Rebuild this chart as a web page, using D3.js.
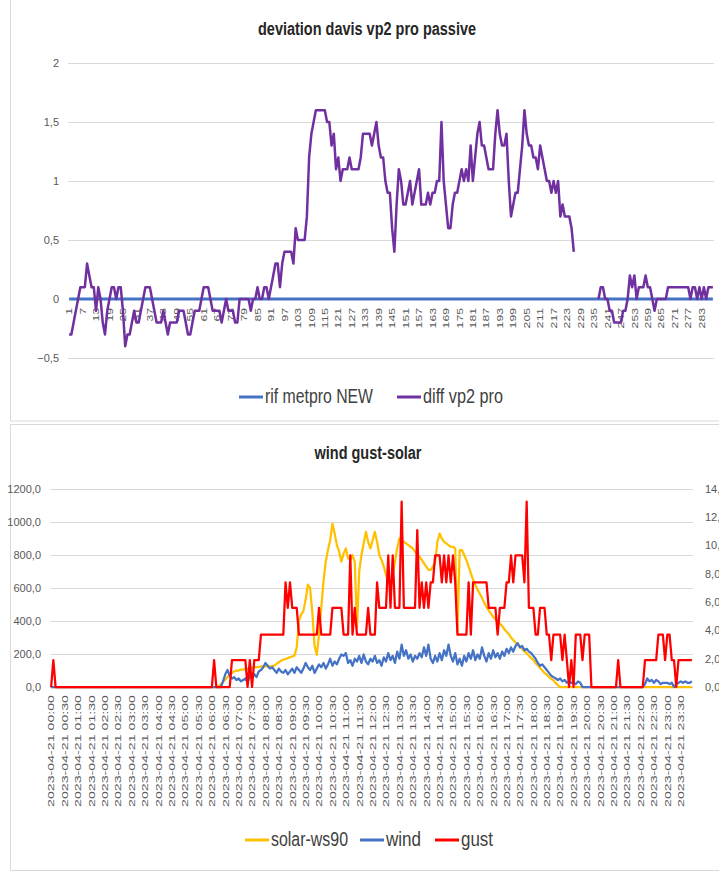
<!DOCTYPE html>
<html>
<head>
<meta charset="utf-8">
<script src="https://cdn.jsdelivr.net/npm/d3@7"></script>
<style>
  body { margin: 0; background: #fff; }
  svg { display: block; font-family: "Liberation Sans Narrow", "Liberation Sans", Arial, sans-serif; }
</style>
</head>
<body>
<svg id="chart" width="719" height="872"></svg>
<script>
// ---- chart 1: deviation davis vp2 pro passive ----
var devTicks = [1, 7, 13, 19, 25, 31, 37, 43, 49, 55, 61, 67, 73, 79, 85, 91, 97, 103, 109, 115, 121, 127, 133, 139,
    145, 151, 157, 163, 169, 175, 181, 187, 193, 199, 205, 211, 217, 223, 229, 235, 241, 247, 253, 259, 265, 271, 277, 283];
var devYTicks = [-0.5, 0, 0.5, 1, 1.5, 2];

var rifMetpro = [
    0, 0, 0, 0, 0, 0, 0, 0, 0, 0, 0, 0, 0, 0, 0, 0, 0, 0, 0, 0, 0, 0, 0, 0,
    0, 0, 0, 0, 0, 0, 0, 0, 0, 0, 0, 0, 0, 0, 0, 0, 0, 0, 0, 0, 0, 0, 0, 0,
    0, 0, 0, 0, 0, 0, 0, 0, 0, 0, 0, 0, 0, 0, 0, 0, 0, 0, 0, 0, 0, 0, 0, 0,
    0, 0, 0, 0, 0, 0, 0, 0, 0, 0, 0, 0, 0, 0, 0, 0, 0, 0, 0, 0, 0, 0, 0, 0,
    0, 0, 0, 0, 0, 0, 0, 0, 0, 0, 0, 0, 0, 0, 0, 0, 0, 0, 0, 0, 0, 0, 0, 0,
    0, 0, 0, 0, 0, 0, 0, 0, 0, 0, 0, 0, 0, 0, 0, 0, 0, 0, 0, 0, 0, 0, 0, 0,
    0, 0, 0, 0, 0, 0, 0, 0, 0, 0, 0, 0, 0, 0, 0, 0, 0, 0, 0, 0, 0, 0, 0, 0,
    0, 0, 0, 0, 0, 0, 0, 0, 0, 0, 0, 0, 0, 0, 0, 0, 0, 0, 0, 0, 0, 0, 0, 0,
    0, 0, 0, 0, 0, 0, 0, 0, 0, 0, 0, 0, 0, 0, 0, 0, 0, 0, 0, 0, 0, 0, 0, 0,
    0, 0, 0, 0, 0, 0, 0, 0, 0, 0, 0, 0, 0, 0, 0, 0, 0, 0, 0, 0, 0, 0, 0, 0,
    0, 0, 0, 0, 0, 0, 0, 0, 0, 0, 0, 0, 0, 0, 0, 0, 0, 0, 0, 0, 0, 0, 0, 0,
    0, 0, 0, 0, 0, 0, 0, 0, 0, 0, 0, 0, 0, 0, 0, 0, 0, 0, 0, 0, 0, 0, 0, 0
];

var diffVp2 = [
    -0.3, -0.3, -0.2, -0.1, 0, 0.1, 0.1, 0.1, 0.3, 0.2, 0.1, 0.1,
    -0.1, 0.1, 0, -0.2, -0.3, -0.1, 0, 0.1, 0.1, 0, 0.1, 0.1,
    -0.1, -0.4, -0.3, -0.3, -0.2, -0.1, -0.2, -0.2, -0.1, 0, 0.1, 0.1,
    0.1, 0, -0.1, -0.2, -0.2, -0.2, -0.1, -0.2, -0.3, -0.2, -0.2, -0.2,
    -0.2, -0.1, -0.1, -0.1, -0.2, -0.3, -0.3, -0.2, -0.1, -0.1, -0.1, 0,
    0.1, 0.1, 0.1, 0, -0.1, -0.1, -0.1, -0.1, -0.2, -0.1, 0, -0.1,
    -0.1, -0.1, -0.2, -0.2, 0, 0, 0, 0, 0, -0.1, 0, 0,
    0.1, 0, 0, 0.1, 0.1, 0, 0.1, 0.2, 0.3, 0.3, 0.1, 0.3,
    0.4, 0.4, 0.4, 0.4, 0.3, 0.6, 0.5, 0.5, 0.5, 0.5, 0.7, 1.2,
    1.4, 1.5, 1.6, 1.6, 1.6, 1.6, 1.6, 1.5, 1.5, 1.3, 1.4, 1.1,
    1.2, 1.0, 1.1, 1.1, 1.1, 1.2, 1.1, 1.1, 1.1, 1.1, 1.2, 1.4,
    1.4, 1.4, 1.4, 1.3, 1.4, 1.5, 1.3, 1.2, 1.2, 1.0, 0.9, 0.9,
    0.6, 0.4, 0.8, 1.1, 1.0, 0.8, 0.8, 0.9, 1.0, 0.8, 0.9, 1.0,
    1.1, 0.8, 0.8, 0.8, 0.9, 0.8, 0.9, 0.9, 1.0, 1.0, 1.5, 1.0,
    0.8, 0.6, 0.6, 0.8, 0.9, 0.9, 1.0, 1.1, 1.0, 1.1, 1.0, 1.3,
    1.0, 1.2, 1.4, 1.5, 1.3, 1.3, 1.2, 1.1, 1.1, 1.1, 1.4, 1.6,
    1.4, 1.3, 1.3, 1.4, 1.0, 0.7, 0.8, 0.9, 0.9, 1.1, 1.3, 1.6,
    1.4, 1.3, 1.3, 1.2, 1.2, 1.1, 1.3, 1.2, 1.1, 1.0, 1.0, 0.9,
    1.0, 0.9, 1.0, 0.7, 0.8, 0.7, 0.7, 0.7, 0.6, 0.4, null, null,
    null, null, null, null, null, null, null, null, 0, 0.1, 0.1, 0,
    0, -0.1, -0.1, -0.2, -0.2, -0.2, -0.2, -0.1, -0.1, 0, 0.2, 0.1,
    0.2, 0, 0.1, 0.1, 0.1, 0.2, 0.1, 0.1, 0, -0.1, 0, 0,
    0, 0, 0, 0.1, 0.1, 0.1, 0.1, 0.1, 0.1, 0.1, 0.1, 0.1,
    0.1, 0, 0.1, 0.1, 0, 0.1, 0, 0.1, 0, 0.1, 0.1, 0.1
];

// ---- chart 2: wind gust-solar ----
var timeLabels = [
    '2023-04-21 00:00', '2023-04-21 00:30', '2023-04-21 01:00', '2023-04-21 01:30',
    '2023-04-21 02:00', '2023-04-21 02:30', '2023-04-21 03:00', '2023-04-21 03:30',
    '2023-04-21 04:00', '2023-04-21 04:30', '2023-04-21 05:00', '2023-04-21 05:30',
    '2023-04-21 06:00', '2023-04-21 06:30', '2023-04-21 07:00', '2023-04-21 07:30',
    '2023-04-21 08:00', '2023-04-21 08:30', '2023-04-21 09:00', '2023-04-21 09:30',
    '2023-04-21 10:00', '2023-04-21 10:30', '2023-04-21 11:00', '2023-04-21 11:30',
    '2023-04-21 12:00', '2023-04-21 12:30', '2023-04-21 13:00', '2023-04-21 13:30',
    '2023-04-21 14:00', '2023-04-21 14:30', '2023-04-21 15:00', '2023-04-21 15:30',
    '2023-04-21 16:00', '2023-04-21 16:30', '2023-04-21 17:00', '2023-04-21 17:30',
    '2023-04-21 18:00', '2023-04-21 18:30', '2023-04-21 19:00', '2023-04-21 19:30',
    '2023-04-21 20:00', '2023-04-21 20:30', '2023-04-21 21:00', '2023-04-21 21:30',
    '2023-04-21 22:00', '2023-04-21 22:30', '2023-04-21 23:00', '2023-04-21 23:30'
];
var leftTicks = [0, 200, 400, 600, 800, 1000, 1200];
var rightTicks = [0, 2, 4, 6, 8, 10, 12, 14];

var solar = [
    0, 0, 0, 0, 0, 0, 0, 0, 0, 0, 0, 0,
    0, 0, 0, 0, 0, 0, 0, 0, 0, 0, 0, 0,
    0, 0, 0, 0, 0, 0, 0, 0, 0, 0, 0, 0,
    0, 0, 0, 0, 0, 0, 0, 0, 0, 0, 0, 0,
    0, 0, 0, 0, 0, 0, 0, 0, 0, 0, 0, 0,
    0, 0, 0, 0, 0, 0, 0, 0, 0, 0, 0, 0,
    0, 0, 0, 5, 15, 30, 45, 60, 75, 85, 95, 100,
    100, 105, 105, 110, 110, 115, 115, 120, 120, 120, 125, 125,
    125, 125, 125, 125, 130, 140, 150, 160, 165, 170, 175, 180,
    185, 190, 240, 400, 440, 460, 530, 620, 600, 450, 250, 195,
    320, 480, 640, 760, 830, 890, 990, 930, 860, 820, 760, 810,
    840, 780, 770, 800, 760, 360, 700, 800, 870, 940, 880, 840,
    890, 940, 880, 800, 770, 730, 680, 640, 620, 680, 760, 840,
    900, 890, 880, 870, 860, 850, 840, 820, 800, 790, 770, 750,
    730, 710, 710, 730, 750, 880, 930, 900, 880, 870, 860, 850,
    850, 840, 330, 830, 830, 800, 770, 730, 690, 650, 620, 590,
    565, 540, 510, 485, 465, 445, 425, 410, 395, 385, 370, 350,
    335, 320, 300, 285, 270, 255, 245, 230, 215, 205, 190, 175,
    165, 145, 130, 115, 100, 85, 75, 60, 50, 40, 25, 10,
    0, 0, 0, 0, 0, 0, 0, 0, 0, 0, 0, 0,
    0, 0, 0, 0, 0, 0, 0, 0, 0, 0, 0, 0,
    0, 0, 0, 0, 0, 0, 0, 0, 0, 0, 0, 0,
    0, 0, 0, 0, 0, 0, 0, 0, 0, 0, 0, 0,
    0, 0, 0, 0, 0, 0, 0, 0, 0, 0, 0, 0
];

var wind = [
    0, 0, 0, 0, 0, 0, 0, 0, 0, 0, 0, 0,
    0, 0, 0, 0, 0, 0, 0, 0, 0, 0, 0, 0,
    0, 0, 0, 0, 0, 0, 0, 0, 0, 0, 0, 0,
    0, 0, 0, 0, 0, 0, 0, 0, 0, 0, 0, 0,
    0, 0, 0, 0, 0, 0, 0, 0, 0, 0, 0, 0,
    0, 0, 0, 0, 0, 0, 0, 0, 0, 0, 0, 0,
    0, 0, 0, 0, 0, 0.4, 0.9, 1.2, 0.8, 0.6, 0.7, 0.5,
    0.6, 0.4, 0.5, 0.6, 0.3, 0.8, 0.6, 0.9, 0.7, 1.1, 1.2, 1.4,
    1.7, 1.5, 1.3, 1.4, 1.2, 1.0, 1.3, 1.1, 1.0, 1.2, 0.9, 1.1,
    1.3, 1.0, 1.4, 1.2, 1.0, 1.3, 1.7, 1.4, 1.2, 1.5, 1.0, 1.3,
    1.6, 1.4, 1.7, 1.3, 1.6, 2.0, 1.5, 1.8, 1.6, 2.0, 2.3, 2.2,
    2.4, 1.7, 1.9, 1.5, 2.0, 1.8, 2.2, 1.7, 2.3, 1.8, 1.6, 2.0,
    1.8, 2.2, 1.7, 1.9, 1.5, 2.1, 1.8, 2.4, 1.9, 2.2, 1.7, 2.5,
    2.0, 3.0, 2.2, 2.6, 2.0, 2.3, 1.8, 2.2, 2.0, 2.4, 2.1, 2.8,
    2.2, 3.0, 2.0, 1.7, 2.2, 1.8, 2.4, 1.9, 2.6, 2.2, 3.0, 2.2,
    1.8, 2.4, 1.6, 2.0, 1.5, 2.2, 1.8, 2.4, 2.0, 2.6, 1.9, 2.3,
    2.0, 2.8, 2.2, 1.8, 2.4, 2.0, 2.6, 2.1, 2.4, 2.0, 2.5, 2.2,
    2.7, 2.4, 2.8, 2.5, 2.9, 3.1, 2.8, 2.9, 2.6, 2.7, 2.5, 2.4,
    2.2, 2.0, 1.7, 1.5, 1.6, 1.4, 1.2, 1.0, 0.8, 0.7, 0.6, 0.5,
    0.6, 0.4, 0.5, 0.3, 0.4, 0.3, 0.3, 0.2, 0.4, 0.3, 0, 0,
    0, 0, 0, 0, 0, 0, 0, 0, 0, 0, 0, 0,
    0, 0, 0, 0, 0, 0, 0, 0, 0, 0, 0, 0,
    0, 0, 0.2, 0.6, 0.4, 0.5, 0.3, 0.5, 0.4, 0.2, 0.3, 0.3,
    0.3, 0.2, 0.3, 0, 0.2, 0.3, 0.4, 0.3, 0.4, 0.3, 0.3, 0.4
];

var gust = [
    0, 1.9, 0, 0, 0, 0, 0, 0, 0, 0, 0, 0,
    0, 0, 0, 0, 0, 0, 0, 0, 0, 0, 0, 0,
    0, 0, 0, 0, 0, 0, 0, 0, 0, 0, 0, 0,
    0, 0, 0, 0, 0, 0, 0, 0, 0, 0, 0, 0,
    0, 0, 0, 0, 0, 0, 0, 0, 0, 0, 0, 0,
    0, 0, 0, 0, 0, 0, 0, 0, 0, 0, 0, 0,
    0, 1.9, 0, 0, 0, 0, 0, 0, 0, 1.9, 1.9, 1.9,
    1.9, 1.9, 1.9, 1.9, 0, 1.9, 0, 1.9, 1.9, 1.9, 3.7, 3.7,
    3.7, 3.7, 3.7, 3.7, 3.7, 3.7, 3.7, 3.7, 3.7, 7.4, 5.6, 7.4,
    5.6, 5.6, 5.6, 3.7, 3.7, 3.7, 3.7, 3.7, 3.7, 3.7, 3.7, 3.7,
    5.6, 3.7, 3.7, 3.7, 3.7, 3.7, 5.6, 5.6, 5.6, 5.6, 5.6, 3.7,
    3.7, 3.7, 9.3, 3.7, 5.6, 3.7, 3.7, 3.7, 3.7, 3.7, 5.6, 3.7,
    3.7, 3.7, 7.4, 5.6, 5.6, 5.6, 5.6, 9.3, 5.6, 9.3, 5.6, 5.6,
    5.6, 13.1, 5.6, 5.6, 5.6, 5.6, 5.6, 5.6, 11.1, 5.6, 7.4, 5.6,
    7.4, 5.6, 7.4, 7.4, 9.3, 9.3, 9.3, 7.4, 9.3, 7.4, 9.3, 7.4,
    9.3, 7.4, 3.7, 3.7, 3.7, 3.7, 3.7, 7.4, 3.7, 7.4, 7.4, 7.4,
    7.4, 7.4, 7.4, 7.4, 5.6, 5.6, 5.6, 5.6, 3.7, 5.6, 5.6, 5.6,
    7.4, 7.4, 9.3, 7.4, 9.3, 9.3, 9.3, 9.3, 7.4, 13.1, 5.6, 5.6,
    5.6, 3.7, 3.7, 5.6, 5.6, 5.6, 3.7, 3.7, 1.9, 3.7, 3.7, 3.7,
    3.7, 1.9, 3.7, 1.9, 0, 1.9, 0, 3.7, 3.7, 3.7, 1.9, 3.7,
    3.7, 3.7, 0, 0, 0, 0, 0, 0, 0, 0, 0, 0,
    0, 0, 1.9, 0, 0, 0, 0, 0, 0, 0, 0, 0,
    0, 0, 1.9, 1.9, 1.9, 1.9, 1.9, 1.9, 3.7, 3.7, 3.7, 1.9,
    3.7, 3.7, 1.9, 1.9, 0, 1.9, 1.9, 1.9, 1.9, 1.9, 1.9, 1.9
];

var tickGrey = '#595959';
var gridGrey = '#d9d9d9';
var comma = function (f) { return function (v) { return f(v).replace('.', ','); }; };

var svg = d3.select('#chart');

// panel frames
svg.append('rect').attr('x', 10.5).attr('y', -2).attr('width', 720).attr('height', 423)
    .attr('fill', 'none').attr('stroke', gridGrey);
svg.append('rect').attr('x', 10.5).attr('y', 424.5).attr('width', 720).attr('height', 446)
    .attr('fill', 'none').attr('stroke', gridGrey);

// ================= chart 1 =================
var g1 = svg.append('g');
var x1 = d3.scaleBand().domain(d3.range(1, rifMetpro.length + 1)).range([68, 714]);
var cx1 = function (i) { return x1(i) + x1.bandwidth() / 2; };
var y1 = d3.scaleLinear().domain([-0.5, 2]).range([358, 63]);

g1.append('text')
    .attr('x', 367).attr('y', 35)
    .attr('text-anchor', 'middle')
    .attr('font-size', 18).attr('font-weight', 'bold').attr('fill', '#262626')
    .attr('textLength', 218).attr('lengthAdjust', 'spacingAndGlyphs')
    .text('deviation davis vp2 pro passive');

g1.selectAll('.grid1').data(devYTicks.filter(function (v) { return v !== 0; }))
    .enter().append('line')
    .attr('x1', 68).attr('x2', 714)
    .attr('y1', function (d) { return Math.round(y1(d)) + 0.5; })
    .attr('y2', function (d) { return Math.round(y1(d)) + 0.5; })
    .attr('stroke', gridGrey);

g1.selectAll('.ylab1').data(devYTicks).enter().append('text')
    .attr('x', 59).attr('y', function (d) { return y1(d); })
    .attr('dy', '0.35em').attr('text-anchor', 'end')
    .attr('font-size', 11).attr('fill', tickGrey)
    .text(comma(d3.format('')));

g1.selectAll('.xlab1').data(devTicks).enter().append('text')
    .attr('transform', function (d) { return 'translate(' + cx1(d) + ',308) rotate(-90)'; })
    .attr('dy', '0.35em').attr('text-anchor', 'end')
    .attr('font-size', 9).attr('fill', tickGrey)
    .attr('textLength', function (d) { return String(d).length * 6.8; })
    .attr('lengthAdjust', 'spacingAndGlyphs')
    .text(function (d) { return d; });

var line1 = d3.line()
    .defined(function (d) { return d !== null; })
    .x(function (d, i) { return cx1(i + 1); })
    .y(function (d) { return y1(d); });

g1.append('path').datum(rifMetpro)
    .attr('d', line1).attr('fill', 'none')
    .attr('stroke', '#4472C4').attr('stroke-width', 3);
g1.append('path').datum(diffVp2)
    .attr('d', line1).attr('fill', 'none')
    .attr('stroke', '#7030A0').attr('stroke-width', 2.5)
    .attr('stroke-linejoin', 'round');

var legend1 = [
    { name: 'rif metpro NEW', color: '#4472C4', x: 239, w: 108 },
    { name: 'diff vp2 pro', color: '#7030A0', x: 397, w: 80 }
];
legend1.forEach(function (l) {
    g1.append('line').attr('x1', l.x).attr('x2', l.x + 24).attr('y1', 397).attr('y2', 397)
        .attr('stroke', l.color).attr('stroke-width', 3);
    g1.append('text').attr('x', l.x + 26).attr('y', 403)
        .attr('font-size', 20).attr('fill', '#404040')
        .attr('textLength', l.w).attr('lengthAdjust', 'spacingAndGlyphs')
        .text(l.name);
});

// ================= chart 2 =================
var g2 = svg.append('g');
var x2 = d3.scaleBand().domain(d3.range(1, solar.length + 1)).range([50, 693]);
var cx2 = function (i) { return x2(i) + x2.bandwidth() / 2; };
var yL = d3.scaleLinear().domain([0, 1200]).range([687, 489]);
var yR = d3.scaleLinear().domain([0, 14]).range([687, 489]);

g2.append('text')
    .attr('x', 368).attr('y', 459)
    .attr('text-anchor', 'middle')
    .attr('font-size', 18).attr('font-weight', 'bold').attr('fill', '#262626')
    .attr('textLength', 107).attr('lengthAdjust', 'spacingAndGlyphs')
    .text('wind gust-solar');

g2.selectAll('.grid2').data(leftTicks)
    .enter().append('line')
    .attr('x1', 50).attr('x2', 693)
    .attr('y1', function (d) { return Math.round(yL(d)) + 0.5; })
    .attr('y2', function (d) { return Math.round(yL(d)) + 0.5; })
    .attr('stroke', function (d) { return d === 0 ? '#bfbfbf' : gridGrey; });

g2.selectAll('.ylabL').data(leftTicks).enter().append('text')
    .attr('x', 41).attr('y', function (d) { return yL(d); })
    .attr('dy', '0.35em').attr('text-anchor', 'end')
    .attr('font-size', 11).attr('fill', tickGrey)
    .text(comma(d3.format('.1f')));

g2.selectAll('.ylabR').data(rightTicks).enter().append('text')
    .attr('x', 705).attr('y', function (d) { return yR(d); })
    .attr('dy', '0.35em').attr('text-anchor', 'start')
    .attr('font-size', 11).attr('fill', tickGrey)
    .text(comma(d3.format('.1f')));

g2.selectAll('.xlab2').data(timeLabels).enter().append('text')
    .attr('transform', function (d, i) { return 'translate(' + cx2(1 + i * 6) + ',695) rotate(-90)'; })
    .attr('dy', '0.35em').attr('text-anchor', 'end')
    .attr('font-size', 9.5).attr('fill', tickGrey)
    .attr('textLength', 112).attr('lengthAdjust', 'spacingAndGlyphs')
    .text(function (d) { return d; });

var lineL = d3.line()
    .x(function (d, i) { return cx2(i + 1); })
    .y(function (d) { return yL(d); });
var lineR = d3.line()
    .x(function (d, i) { return cx2(i + 1); })
    .y(function (d) { return yR(d); });

g2.append('path').datum(solar).attr('d', lineL).attr('fill', 'none')
    .attr('stroke', '#FFC000').attr('stroke-width', 2.25).attr('stroke-linejoin', 'round');
g2.append('path').datum(wind).attr('d', lineR).attr('fill', 'none')
    .attr('stroke', '#4472C4').attr('stroke-width', 2.25).attr('stroke-linejoin', 'round');
g2.append('path').datum(gust).attr('d', lineR).attr('fill', 'none')
    .attr('stroke', '#FF0000').attr('stroke-width', 2.25).attr('stroke-linejoin', 'round');

var legend2 = [
    { name: 'solar-ws90', color: '#FFC000', x: 245, w: 77 },
    { name: 'wind', color: '#4472C4', x: 360, w: 35 },
    { name: 'gust', color: '#FF0000', x: 435, w: 32 }
];
legend2.forEach(function (l) {
    g2.append('line').attr('x1', l.x).attr('x2', l.x + 24).attr('y1', 840).attr('y2', 840)
        .attr('stroke', l.color).attr('stroke-width', 3);
    g2.append('text').attr('x', l.x + 26).attr('y', 846)
        .attr('font-size', 20).attr('fill', '#404040')
        .attr('textLength', l.w).attr('lengthAdjust', 'spacingAndGlyphs')
        .text(l.name);
});
</script>
</body>
</html>
